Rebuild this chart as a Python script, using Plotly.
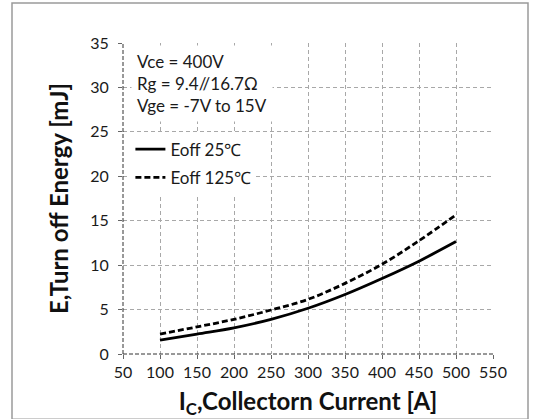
import plotly.graph_objects as go

current = [100, 150, 200, 250, 300, 350, 400, 450, 500]
eoff_25 = [1.55, 2.25, 2.95, 3.9, 5.15, 6.7, 8.5, 10.45, 12.65]
eoff_125 = [2.25, 3.05, 3.9, 4.95, 6.15, 7.95, 10.1, 12.75, 15.65]

x_ticks = [50, 100, 150, 200, 250, 300, 350, 400, 450, 500, 550]
y_ticks = [0, 5, 10, 15, 20, 25, 30, 35]

FONT = "Lato"

fig = go.Figure()
fig.add_trace(go.Scatter(x=current, y=eoff_25, mode="lines", name="Eoff 25\u2103",
                         legendgroup="a",
                         line=dict(color="black", width=2.8, shape="spline")))
fig.add_trace(go.Scatter(x=current, y=eoff_125, mode="lines", name="Eoff 125\u2103",
                         legendgroup="b",
                         line=dict(color="black", width=2.8, dash="6px,3px", shape="spline")))

grid = dict(showgrid=True, gridcolor="#a8a8a8", griddash="4px,3px", gridwidth=1,
            showline=False, automargin=False,
            ticks="outside", ticklen=4, tickcolor="#666",
            tickfont=dict(family=FONT, size=16, color="#1a1a1a"), zeroline=False)

fig.update_xaxes(range=[50, 550], tickvals=x_ticks, **grid,
                 title=dict(text="I<sub>C</sub>,Collectorn Current [A]",
                            font=dict(family=FONT, size=24, color="#111", weight="bold"),
                            standoff=16))
fig.update_yaxes(range=[0, 35], tickvals=y_ticks, **grid, ticklabelstandoff=6,
                 title=dict(text="E,Turn off Energy [mJ]",
                            font=dict(family=FONT, size=24, color="#111", weight="bold"),
                            standoff=14))

fig.add_annotation(xref="paper", yref="paper", x=0.0, y=1.0, xanchor="left", yanchor="top",
                   align="left", showarrow=False, bgcolor="white", borderpad=5,
                   text="Vce = 400V<br>Rg = 9.4//16.7\u03a9<br>Vge = -7V to 15V",
                   font=dict(family=FONT, size=17, color="#1a1a1a"), xshift=8, yshift=-2)

# dashed dark axis lines
fig.add_shape(type="line", xref="paper", yref="paper", x0=0, x1=0, y0=0, y1=1,
              line=dict(color="#333", width=1, dash="4px,2px"), layer="above")
fig.add_shape(type="line", xref="paper", yref="paper", x0=0, x1=1, y0=0, y1=0,
              line=dict(color="#333", width=1, dash="4px,2px"), layer="above")

# outer frame
fig.add_shape(type="rect", xref="paper", yref="paper", x0=-0.3, x1=1.0946, y0=-0.21, y1=1.1286,
              line=dict(color="#9a9a9a", width=1.5), layer="above")

fig.update_layout(
    width=534, height=419, margin=dict(l=123, r=41, t=43, b=65),
    paper_bgcolor="white", plot_bgcolor="white",
    font=dict(family=FONT, color="#222"),
    legend=dict(x=0.02, y=0.715, xanchor="left", yanchor="top", bgcolor="white",
                font=dict(family=FONT, size=17, color="#1a1a1a"), itemwidth=30,
                traceorder="grouped", tracegroupgap=3),
    showlegend=True,
)

fig.write_html("out.html")
